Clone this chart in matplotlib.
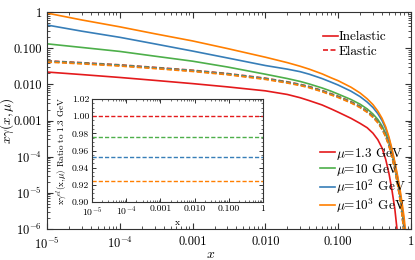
import numpy as np
import matplotlib
matplotlib.use('Agg')
import matplotlib.pyplot as plt
from matplotlib.lines import Line2D
from matplotlib.ticker import FixedLocator, FixedFormatter, NullFormatter, LogLocator

plt.rcParams['font.family'] = 'serif'
plt.rcParams['font.serif'] = ['cmr10', 'DejaVu Serif']
plt.rcParams['mathtext.fontset'] = 'cm'
plt.rcParams['axes.unicode_minus'] = False

# x grid
x_vals = [1e-5, 3e-5, 1e-4, 3e-4, 1e-3, 3e-3, 0.01, 0.02, 0.03, 0.04, 0.06, 0.08, 0.1,
          0.15, 0.2, 0.25, 0.3, 0.35, 0.4, 0.45, 0.5, 0.55, 0.6, 0.65, 0.7, 0.75, 0.8,
          0.85, 0.9]

# inelastic x*gamma(x, mu), read as log10 of the plotted value
log_inel_13 = [-1.66, -1.73, -1.81, -1.89, -1.98, -2.07, -2.18, -2.28, -2.37, -2.45,
               -2.57, -2.68, -2.77, -2.94, -3.08, -3.20, -3.35, -3.53, -3.76, -4.08,
               -4.48, -4.95, -5.45, -6.1, -7.5]
log_inel_10 = [-0.88, -0.98, -1.09, -1.22, -1.36, -1.52, -1.72, -1.84, -1.92, -1.99,
               -2.10, -2.19, -2.27, -2.42, -2.55, -2.68, -2.82, -2.97, -3.15, -3.36,
               -3.62, -3.93, -4.27, -4.63, -5.02, -5.45, -5.95, -6.6, -8.0]
log_inel_100 = [-0.36, -0.53, -0.70, -0.88, -1.08, -1.27, -1.48, -1.58, -1.65, -1.72,
                -1.84, -1.94, -2.02, -2.19, -2.34, -2.49, -2.64, -2.81, -3.00, -3.23,
                -3.51, -3.84, -4.19, -4.55, -4.92, -5.33, -5.78, -6.35, -7.5]
log_inel_1000 = [-0.03, -0.22, -0.41, -0.60, -0.80, -1.01, -1.25, -1.40, -1.50, -1.58,
                 -1.71, -1.82, -1.90, -2.08, -2.24, -2.40, -2.56, -2.74, -2.94, -3.18,
                 -3.47, -3.80, -4.15, -4.50, -4.85, -5.25, -5.65, -6.15, -7.2]

# elastic at 1.3 GeV (log10) and ratio of the other scales to it (inset)
log_elastic_13 = [-1.35, -1.40, -1.46, -1.53, -1.61, -1.70, -1.83, -1.93, -2.00, -2.06,
                  -2.17, -2.26, -2.33, -2.48, -2.61, -2.74, -2.88, -3.03, -3.21, -3.42,
                  -3.68, -3.99, -4.33, -4.70, -5.10, -5.55, -6.05, -6.7, -8.0]
ratio_x = [1e-5, 1.0]
elastic_ratio = [1.000, 0.976, 0.952, 0.924]

mu_labels = [r'$\mu$=1.3 GeV', r'$\mu$=10 GeV', r'$\mu$=10$^2$ GeV', r'$\mu$=10$^3$ GeV']
colors = ['#e41a1c', '#4daf4a', '#377eb8', '#ff7f00']
inelastic = [log_inel_13, log_inel_10, log_inel_100, log_inel_1000]

main_xticks = [1e-5, 1e-4, 1e-3, 1e-2, 1e-1, 1]
main_xticklabels = [r'$10^{-5}$', r'$10^{-4}$', '0.001', '0.010', '0.100', '1']
main_yticks = [1e-6, 1e-5, 1e-4, 1e-3, 1e-2, 1e-1, 1]
main_yticklabels = [r'$10^{-6}$', r'$10^{-5}$', r'$10^{-4}$', '0.001', '0.010', '0.100', '1']
inset_yticks = [0.90, 0.92, 0.94, 0.96, 0.98, 1.00, 1.02]

W, H = 415, 260
fig = plt.figure(figsize=(W / 100, H / 100), dpi=100)
ax = fig.add_axes([47 / W, 1 - 229 / H, (411 - 47) / W, (229 - 12) / H])

xs = np.array(x_vals)
dash = (0, (3, 1.5))
for logv, c in zip(inelastic, colors):
    ax.plot(xs[:len(logv)], 10 ** np.array(logv), color=c, lw=1.2)
for r, c in zip(elastic_ratio, colors):
    ax.plot(xs, 10 ** np.array(log_elastic_13) * r, color=c, lw=1.2, ls=dash)

ax.set_xscale('log')
ax.set_yscale('log')
ax.set_xlim(1e-5, 1)
ax.set_ylim(1e-6, 1)
ax.xaxis.set_major_locator(FixedLocator(main_xticks))
ax.xaxis.set_major_formatter(FixedFormatter(main_xticklabels))
ax.yaxis.set_major_locator(FixedLocator(main_yticks))
ax.yaxis.set_major_formatter(FixedFormatter(main_yticklabels))
ax.xaxis.set_minor_locator(LogLocator(base=10, subs=np.arange(2, 10), numticks=20))
ax.yaxis.set_minor_locator(LogLocator(base=10, subs=np.arange(2, 10), numticks=20))
ax.xaxis.set_minor_formatter(NullFormatter())
ax.yaxis.set_minor_formatter(NullFormatter())
ax.tick_params(which='both', direction='in', top=True, right=True, labelsize=9,
               color='#333333')
ax.tick_params(which='major', length=4, width=0.8)
ax.tick_params(which='minor', length=2, width=0.6)
ax.tick_params(axis='x', pad=5)
for s in ax.spines.values():
    s.set_color('#333333')

ax.set_xlabel(r'$x$', fontsize=10)
ax.xaxis.set_label_coords(0.45, -0.09)
ax.set_ylabel(r'$x\gamma(x,\mu)$', fontsize=9.5)
ax.yaxis.set_label_coords(-0.084, 0.5)

leg1 = ax.legend([Line2D([], [], color=colors[0], lw=1.2),
                  Line2D([], [], color=colors[0], lw=1.2, ls=dash)],
                 ['Inelastic', 'Elastic'], loc='upper left',
                 bbox_to_anchor=((323 - 47) / (411 - 47), 1 - (31 - 12) / (229 - 12)),
                 frameon=False, fontsize=9.5, handlelength=1.1, handletextpad=0.1,
                 labelspacing=0.2, borderpad=0, borderaxespad=0)
ax.add_artist(leg1)
ax.legend([Line2D([], [], color=c, lw=1.2) for c in colors], mu_labels, loc='upper left',
          bbox_to_anchor=((320 - 47) / (411 - 47), 1 - (146 - 12) / (229 - 12)),
          frameon=False, fontsize=9.5, handlelength=1.1, handletextpad=0.1,
          labelspacing=0.0, borderpad=0, borderaxespad=0)

# inset: elastic ratio
axi = fig.add_axes([92 / W, 1 - 202 / H, (263 - 92) / W, (202 - 99) / H])
for r, c in zip(elastic_ratio, colors):
    axi.plot(ratio_x, [r, r], color=c, lw=1.0, ls=dash)
axi.set_xscale('log')
axi.set_xlim(1e-5, 1)
axi.set_ylim(0.90, 1.02)
axi.xaxis.set_major_locator(FixedLocator(main_xticks))
axi.xaxis.set_major_formatter(FixedFormatter(main_xticklabels))
axi.xaxis.set_minor_locator(LogLocator(base=10, subs=np.arange(2, 10), numticks=20))
axi.xaxis.set_minor_formatter(NullFormatter())
axi.yaxis.set_major_locator(FixedLocator(inset_yticks))
axi.yaxis.set_major_formatter(FixedFormatter(['%.2f' % v for v in inset_yticks]))
axi.yaxis.set_minor_locator(FixedLocator(np.arange(0.90, 1.0201, 0.005)))
axi.tick_params(which='both', direction='in', top=True, right=True, labelsize=7,
                color='#333333')
axi.tick_params(which='major', length=3, width=0.7, pad=2)
axi.tick_params(which='minor', length=1.5, width=0.5)
for s in axi.spines.values():
    s.set_color('#333333')
axi.set_xlabel('x', fontsize=7, labelpad=0)
axi.set_ylabel(r'x$\gamma^{el}$(x,$\mu$) Ratio to 1.3 GeV', fontsize=6.5, labelpad=2)

fig.savefig('out.png', dpi=100)
